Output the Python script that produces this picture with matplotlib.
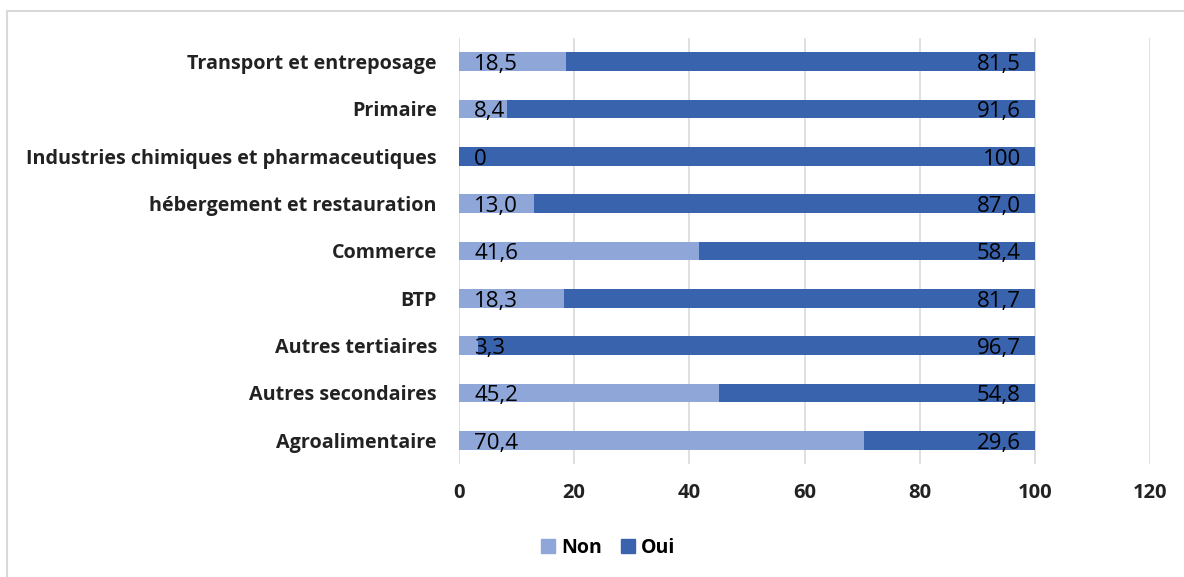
import matplotlib
matplotlib.use("Agg")
import matplotlib.pyplot as plt
from matplotlib.patches import Rectangle

plt.rcParams['font.family'] = ['Open Sans', 'DejaVu Sans']

# Sectors, listed from bottom to top of the chart
categories = [
    "Agroalimentaire",
    "Autres secondaires",
    "Autres tertiaires",
    "BTP",
    "Commerce",
    "hébergement et restauration",
    "Industries chimiques et pharmaceutiques",
    "Primaire",
    "Transport et entreposage",
]
non_values = [70.4, 45.2, 3.3, 18.3, 41.6, 13.0, 0, 8.4, 18.5]
oui_values = [29.6, 54.8, 96.7, 81.7, 58.4, 87.0, 100, 91.6, 81.5]
non_labels = ["70,4", "45,2", "3,3", "18,3", "41,6", "13,0", "0", "8,4", "18,5"]
oui_labels = ["29,6", "54,8", "96,7", "81,7", "58,4", "87,0", "100", "91,6", "81,5"]
series_names = ["Non", "Oui"]
x_ticks = [0, 20, 40, 60, 80, 100, 120]

color_non = "#8FA6D8"
color_oui = "#3A63AD"

fig = plt.figure(figsize=(11.84, 5.77), dpi=100)
fig.patch.set_facecolor("white")

# Outer chart frame
fig.add_artist(Rectangle((7 / 1184, -0.05), 1.2, (577 - 11) / 577 + 0.05,
                         transform=fig.transFigure, fill=False,
                         edgecolor="#D9D9D9", linewidth=1.5))

ax = fig.add_axes([459 / 1184, (577 - 464) / 577, 691 / 1184, (464 - 38) / 577])

y = list(range(len(categories)))
bar_h = 0.40
ax.barh(y, non_values, height=bar_h, color=color_non, label=series_names[0], zorder=3)
ax.barh(y, oui_values, left=non_values, height=bar_h, color=color_oui,
        label=series_names[1], zorder=3)

for yi, n, o, nl, ol in zip(y, non_values, oui_values, non_labels, oui_labels):
    ax.annotate(nl, xy=(0, yi), xytext=(11, -2), textcoords="offset points",
                ha="left", va="center", fontsize=16, fontweight="normal",
                color="#000000", zorder=4)
    ax.annotate(ol, xy=(n + o, yi), xytext=(-10, -2), textcoords="offset points",
                ha="right", va="center", fontsize=16, fontweight="normal",
                color="#000000", zorder=4)

ax.set_xlim(0, 120)
ax.set_ylim(-0.5, len(categories) - 0.5)
ax.set_xticks(x_ticks)
ax.set_xticklabels([str(t) for t in x_ticks], fontsize=14.5, fontweight="bold", color="#222222")
ax.set_yticks(y)
ax.set_yticklabels(categories, fontsize=14.2, fontweight="bold", color="#222222")
ax.tick_params(axis="both", length=0)
ax.tick_params(axis="x", pad=14)
ax.tick_params(axis="y", pad=16)
ax.grid(axis="x", color="#D9D9D9", linewidth=1.2, zorder=0)
for s in ax.spines.values():
    s.set_visible(False)

handles = [Rectangle((0, 0), 1, 1, color=color_non), Rectangle((0, 0), 1, 1, color=color_oui)]
fig.legend(handles, series_names, loc="center", bbox_to_anchor=(608 / 1184, 1 - 548 / 577),
           ncol=2, frameon=False, prop={"size": 14, "weight": "bold"},
           handlelength=0.7, handleheight=0.7, handletextpad=0.3, columnspacing=1.0)

fig.savefig("out.png", dpi=100, facecolor="white")
